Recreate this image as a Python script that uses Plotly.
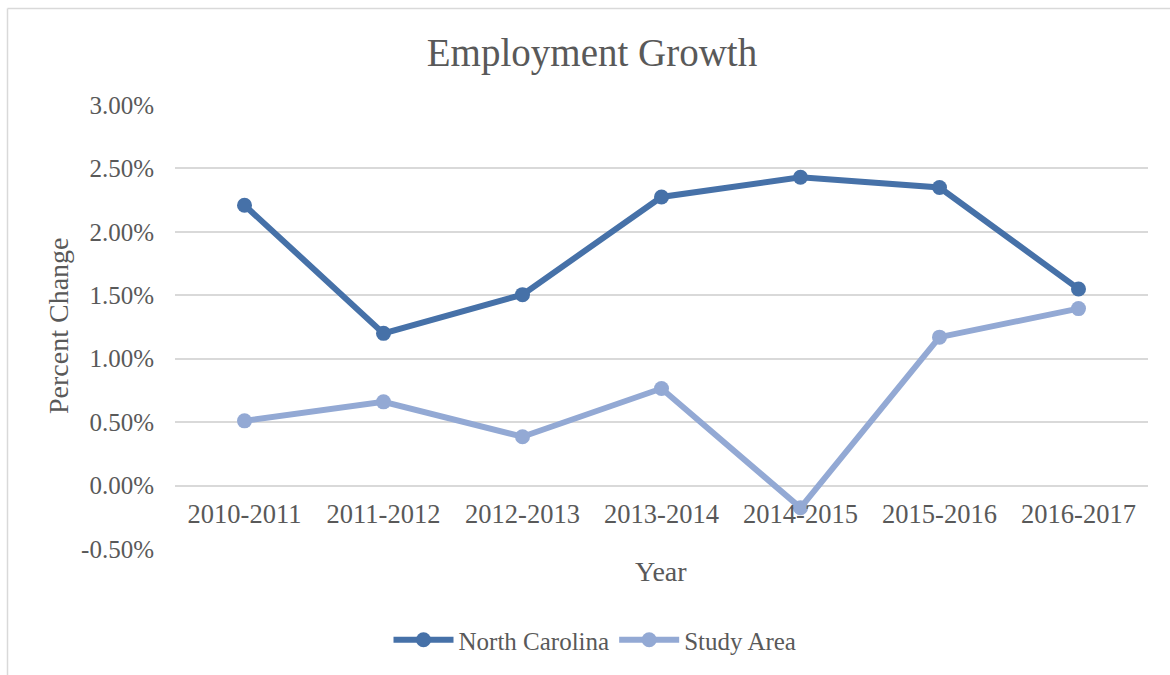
import plotly.graph_objects as go

# Year-over-year employment change, in percent
years = ["2010-2011", "2011-2012", "2012-2013", "2013-2014",
         "2014-2015", "2015-2016", "2016-2017"]
north_carolina = [2.21, 1.20, 1.505, 2.275, 2.43, 2.35, 1.55]
study_area = [0.51, 0.66, 0.385, 0.765, -0.175, 1.17, 1.395]

y_ticks = [-0.5, 0.0, 0.5, 1.0, 1.5, 2.0, 2.5, 3.0]
y_tick_labels = [f"{v:.2f}%" for v in y_ticks]

FONT = "Liberation Serif, Cambria, serif"
TEXT = "#595959"
GRID = "#D9D9D9"
NC_COLOR = "#4671A8"
SA_COLOR = "#93A9D4"

W, H = 1170, 675
L, R, T, B = 175, 22, 105, 126
PW, PH = W - L - R, H - T - B


def px_x(p):
    return (p - L) / PW


def px_y(p):
    return (H - B - p) / PH


fig = go.Figure()
fig.add_trace(go.Scatter(
    x=years, y=north_carolina, name="North Carolina", mode="lines+markers",
    line=dict(color=NC_COLOR, width=6), marker=dict(size=15, color=NC_COLOR),
))
fig.add_trace(go.Scatter(
    x=years, y=study_area, name="Study Area", mode="lines+markers",
    line=dict(color=SA_COLOR, width=6), marker=dict(size=15, color=SA_COLOR),
))

y_min, y_max = y_ticks[0], y_ticks[-1]

fig.update_layout(
    width=W, height=H,
    margin=dict(l=L, r=R, t=T, b=B),
    paper_bgcolor="white", plot_bgcolor="white",
    font=dict(family=FONT, color=TEXT, size=25),
    title=dict(text="Employment Growth", xref="container", yref="container",
               x=592 / W, y=1 - 52 / H, xanchor="center", yanchor="middle",
               font=dict(size=39, color=TEXT, family=FONT)),
    xaxis=dict(type="category", range=[-0.5, len(years) - 0.5],
               showgrid=False, showline=False, zeroline=False, ticks="",
               anchor="free", position=(0 - y_min) / (y_max - y_min),
               ticklabelstandoff=10,
               tickfont=dict(size=26.5, color=TEXT, family=FONT)),
    yaxis=dict(range=[y_min, y_max], tickvals=y_ticks, ticktext=y_tick_labels,
               showgrid=True, gridcolor=GRID, gridwidth=1.5,
               zeroline=True, zerolinecolor=GRID, zerolinewidth=1.5,
               showline=False, ticks="", ticklabelstandoff=20,
               tickfont=dict(size=25, color=TEXT, family=FONT)),
    legend=dict(orientation="h", x=px_x(595), y=px_y(640),
                xanchor="center", yanchor="middle",
                font=dict(size=25, color=TEXT, family=FONT),
                itemwidth=60, bgcolor="rgba(0,0,0,0)"),
    showlegend=True,
)

# Axis titles
fig.add_annotation(text="Year", xref="paper", yref="paper",
                   x=px_x(661), y=px_y(571), showarrow=False,
                   xanchor="center", yanchor="middle",
                   font=dict(size=28, color=TEXT, family=FONT))
fig.add_annotation(text="Percent Change", xref="paper", yref="paper",
                   x=px_x(58), y=px_y(326), showarrow=False, textangle=-90,
                   xanchor="center", yanchor="middle",
                   font=dict(size=28, color=TEXT, family=FONT))

# Chart-area frame
fig.add_shape(type="line", xref="paper", yref="paper",
              x0=px_x(7.5), x1=px_x(1250), y0=px_y(8.5), y1=px_y(8.5),
              line=dict(color=GRID, width=1.5))
fig.add_shape(type="line", xref="paper", yref="paper",
              x0=px_x(7.5), x1=px_x(7.5), y0=px_y(8.5), y1=px_y(750),
              line=dict(color=GRID, width=1.5))

fig.write_html("out.html")
